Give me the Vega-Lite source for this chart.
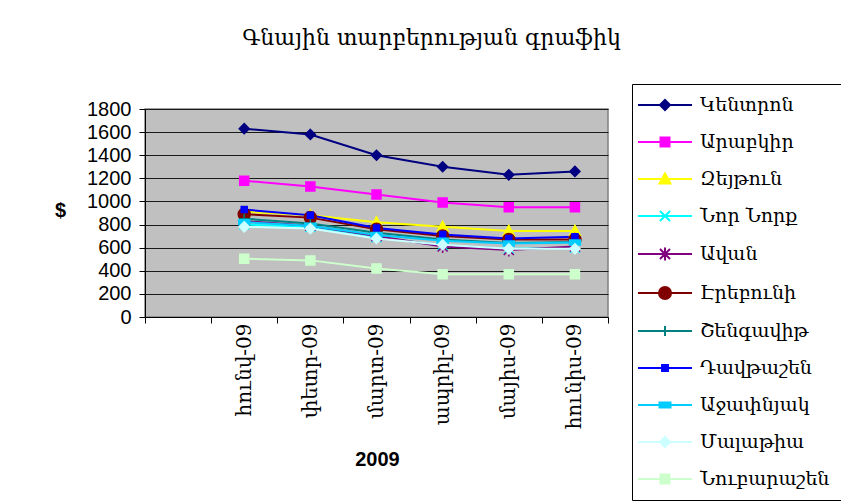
{
  "$schema": "https://vega.github.io/schema/vega-lite/v6.json",
  "autosize": {"type": "none"},
  "width": 463,
  "height": 208,
  "padding": {"left": 145, "top": 109, "right": 233, "bottom": 185},
  "background": "white",
  "title": {"text": "Գնային տարբերության գրաֆիկ", "font": "DejaVu Serif", "fontSize": 22, "fontWeight": "normal", "color": "black", "frame": "group", "anchor": "middle", "dx": 55, "offset": 34},
  "config": {
    "view": {"fill": "#C0C0C0", "stroke": "#808080", "strokeWidth": 1.5},
    "legend": {"orient": "none", "legendX": 487, "legendY": -25, "title": null, "symbolSize": 324, "symbolStrokeWidth": 2, "symbolOffset": 12, "labelOffset": 25, "labelFont": "DejaVu Serif", "labelFontSize": 19, "labelColor": "black", "rowPadding": 17, "padding": 11, "strokeColor": "black", "fillColor": "white", "symbolOpacity": 1, "labelLimit": 300}
  },
  "data": {"values": [
    {"series": "Կենտրոն", "month": "հունվ-09", "value": 1630},
    {"series": "Կենտրոն", "month": "փետր-09", "value": 1580},
    {"series": "Կենտրոն", "month": "մարտ-09", "value": 1400},
    {"series": "Կենտրոն", "month": "ապրիլ-09", "value": 1300},
    {"series": "Կենտրոն", "month": "մայիս-09", "value": 1230},
    {"series": "Կենտրոն", "month": "հունիս-09", "value": 1260},
    {"series": "Արաբկիր", "month": "հունվ-09", "value": 1180},
    {"series": "Արաբկիր", "month": "փետր-09", "value": 1130},
    {"series": "Արաբկիր", "month": "մարտ-09", "value": 1060},
    {"series": "Արաբկիր", "month": "ապրիլ-09", "value": 990},
    {"series": "Արաբկիր", "month": "մայիս-09", "value": 950},
    {"series": "Արաբկիր", "month": "հունիս-09", "value": 950},
    {"series": "Զեյթուն", "month": "հունվ-09", "value": 910},
    {"series": "Զեյթուն", "month": "փետր-09", "value": 880},
    {"series": "Զեյթուն", "month": "մարտ-09", "value": 820},
    {"series": "Զեյթուն", "month": "ապրիլ-09", "value": 780},
    {"series": "Զեյթուն", "month": "մայիս-09", "value": 745},
    {"series": "Զեյթուն", "month": "հունիս-09", "value": 745},
    {"series": "Նոր Նորք", "month": "հունվ-09", "value": 800},
    {"series": "Նոր Նորք", "month": "փետր-09", "value": 780},
    {"series": "Նոր Նորք", "month": "մարտ-09", "value": 690},
    {"series": "Նոր Նորք", "month": "ապրիլ-09", "value": 620},
    {"series": "Նոր Նորք", "month": "մայիս-09", "value": 590},
    {"series": "Նոր Նորք", "month": "հունիս-09", "value": 600},
    {"series": "Ավան", "month": "հունվ-09", "value": 830},
    {"series": "Ավան", "month": "փետր-09", "value": 790},
    {"series": "Ավան", "month": "մարտ-09", "value": 700},
    {"series": "Ավան", "month": "ապրիլ-09", "value": 610},
    {"series": "Ավան", "month": "մայիս-09", "value": 580},
    {"series": "Ավան", "month": "հունիս-09", "value": 610},
    {"series": "Էրեբունի", "month": "հունվ-09", "value": 890},
    {"series": "Էրեբունի", "month": "փետր-09", "value": 860},
    {"series": "Էրեբունի", "month": "մարտ-09", "value": 760},
    {"series": "Էրեբունի", "month": "ապրիլ-09", "value": 700},
    {"series": "Էրեբունի", "month": "մայիս-09", "value": 670},
    {"series": "Էրեբունի", "month": "հունիս-09", "value": 670},
    {"series": "Շենգավիթ", "month": "հունվ-09", "value": 850},
    {"series": "Շենգավիթ", "month": "փետր-09", "value": 810},
    {"series": "Շենգավիթ", "month": "մարտ-09", "value": 730},
    {"series": "Շենգավիթ", "month": "ապրիլ-09", "value": 670},
    {"series": "Շենգավիթ", "month": "մայիս-09", "value": 640},
    {"series": "Շենգավիթ", "month": "հունիս-09", "value": 650},
    {"series": "Դավթաշեն", "month": "հունվ-09", "value": 930},
    {"series": "Դավթաշեն", "month": "փետր-09", "value": 880},
    {"series": "Դավթաշեն", "month": "մարտ-09", "value": 770},
    {"series": "Դավթաշեն", "month": "ապրիլ-09", "value": 715},
    {"series": "Դավթաշեն", "month": "մայիս-09", "value": 680},
    {"series": "Դավթաշեն", "month": "հունիս-09", "value": 695},
    {"series": "Աջափնյակ", "month": "հունվ-09", "value": 820},
    {"series": "Աջափնյակ", "month": "փետր-09", "value": 790},
    {"series": "Աջափնյակ", "month": "մարտ-09", "value": 710},
    {"series": "Աջափնյակ", "month": "ապրիլ-09", "value": 660},
    {"series": "Աջափնյակ", "month": "մայիս-09", "value": 635},
    {"series": "Աջափնյակ", "month": "հունիս-09", "value": 645},
    {"series": "Մալաթիա", "month": "հունվ-09", "value": 780},
    {"series": "Մալաթիա", "month": "փետր-09", "value": 765},
    {"series": "Մալաթիա", "month": "մարտ-09", "value": 680},
    {"series": "Մալաթիա", "month": "ապրիլ-09", "value": 625},
    {"series": "Մալաթիա", "month": "մայիս-09", "value": 590},
    {"series": "Մալաթիա", "month": "հունիս-09", "value": 590},
    {"series": "Նուբարաշեն", "month": "հունվ-09", "value": 505},
    {"series": "Նուբարաշեն", "month": "փետր-09", "value": 490},
    {"series": "Նուբարաշեն", "month": "մարտ-09", "value": 420},
    {"series": "Նուբարաշեն", "month": "ապրիլ-09", "value": 370},
    {"series": "Նուբարաշեն", "month": "մայիս-09", "value": 370},
    {"series": "Նուբարաշեն", "month": "հունիս-09", "value": 370}
  ]},
  "encoding": {
    "x": {"field": "month", "type": "ordinal",
      "scale": {"type": "band", "domain": [" ", "հունվ-09", "փետր-09", "մարտ-09", "ապրիլ-09", "մայիս-09", "հունիս-09"], "paddingInner": 0, "paddingOuter": 0},
      "axis": {"title": "2009", "titleFont": "Liberation Sans", "titleFontSize": 20, "titleFontWeight": "bold", "titleColor": "black", "titleX": 232, "titleY": 142, "titleBaseline": "middle", "titleAlign": "center",
        "labelAngle": 270, "labelAlign": "right", "labelBaseline": "middle", "labelFont": "DejaVu Serif", "labelFontSize": 20, "labelColor": "black", "labelPadding": 0, "labelOverlap": false,
        "tickSize": 6, "tickColor": "black", "domainColor": "black", "tickBand": "extent", "grid": false}},
    "y": {"field": "value", "type": "quantitative",
      "scale": {"domain": [0, 1800], "nice": false},
      "axis": {"title": "$", "titleAngle": 0, "titleX": -85, "titleY": 101, "titleAlign": "center", "titleBaseline": "middle", "titleFont": "Liberation Sans", "titleFontSize": 20, "titleFontWeight": "bold", "titleColor": "black",
        "values": [0, 200, 400, 600, 800, 1000, 1200, 1400, 1600, 1800], "format": "d", "labelFont": "Liberation Sans", "labelFontSize": 20, "labelColor": "black", "labelPadding": 8, "labelOverlap": false, "labelFlush": false,
        "tickSize": 6, "tickColor": "black", "domainColor": "black", "grid": true, "gridColor": "#1a1a1a", "gridWidth": 1}}
  },
  "layer": [
    {
      "mark": {"type": "line", "strokeWidth": 2},
      "encoding": {
        "color": {"field": "series", "type": "nominal", "legend": null,
          "scale": {"domain": ["Կենտրոն", "Արաբկիր", "Զեյթուն", "Նոր Նորք", "Ավան", "Էրեբունի", "Շենգավիթ", "Դավթաշեն", "Աջափնյակ", "Մալաթիա", "Նուբարաշեն"],
            "range": ["#000080", "#FF00FF", "#FFFF00", "#00FFFF", "#800080", "#800000", "#008080", "#0000FF", "#00CCFF", "#CCFFFF", "#CCFFCC"]}}
      }
    },
    {
      "mark": {"type": "point", "filled": true, "size": 100, "strokeWidth": 1.5, "opacity": 1},
      "encoding": {
        "fill": {"field": "series", "type": "nominal", "legend": null,
          "scale": {"domain": ["Կենտրոն", "Արաբկիր", "Զեյթուն", "Նոր Նորք", "Ավան", "Էրեբունի", "Շենգավիթ", "Դավթաշեն", "Աջափնյակ", "Մալաթիա", "Նուբարաշեն"],
            "range": ["#000080", "#FF00FF", "#FFFF00", "#00FFFF", "#800080", "#800000", "#008080", "#0000FF", "#00CCFF", "#CCFFFF", "#CCFFCC"]}},
        "stroke": {"field": "series", "type": "nominal", "legend": null,
          "scale": {"domain": ["Կենտրոն", "Արաբկիր", "Զեյթուն", "Նոր Նորք", "Ավան", "Էրեբունի", "Շենգավիթ", "Դավթաշեն", "Աջափնյակ", "Մալաթիա", "Նուբարաշեն"],
            "range": ["#000080", "#FF00FF", "#FFFF00", "#00FFFF", "#800080", "#800000", "#008080", "#0000FF", "#00CCFF", "#CCFFFF", "#CCFFCC"]}},
        "shape": {"field": "series", "type": "nominal", "legend": null,
          "scale": {"domain": ["Կենտրոն", "Արաբկիր", "Զեյթուն", "Նոր Նորք", "Ավան", "Էրեբունի", "Շենգավիթ", "Դավթաշեն", "Աջափնյակ", "Մալաթիա", "Նուբարաշեն"],
            "range": [
              "M0,-1L1,0L0,1L-1,0Z",
              "M-0.9,-0.9H0.9V0.9H-0.9Z",
              "M0,-1.1L1.1,0.9H-1.1Z",
              "M-1,-1L1,1M-1,1L1,-1",
              "M-1,-1L1,1M-1,1L1,-1M0,-1.3V1.3",
              "M-1.2,0A1.2,1.2 0 1,0 1.2,0A1.2,1.2 0 1,0 -1.2,0Z",
              "M-1,0H1M0,-1V1",
              "M-0.6,-0.6H0.6V0.6H-0.6Z",
              "M-1.1,-0.5H1.1V0.5H-1.1Z",
              "M0,-1L1,0L0,1L-1,0Z",
              "M-0.9,-0.9H0.9V0.9H-0.9Z"
            ]}}
      }
    },
    {
      "mark": {"type": "point", "filled": true, "size": 0},
      "encoding": {
        "fill": {"field": "series", "type": "nominal",
          "legend": {"orient": "none", "legendX": 487, "legendY": -25, "title": null},
          "scale": {"domain": ["Կենտրոն", "Արաբկիր", "Զեյթուն", "Նոր Նորք", "Ավան", "Էրեբունի", "Շենգավիթ", "Դավթաշեն", "Աջափնյակ", "Մալաթիա", "Նուբարաշեն"],
            "range": ["#000080", "#FF00FF", "#FFFF00", "#00FFFF", "#800080", "#800000", "#008080", "#0000FF", "#00CCFF", "#CCFFFF", "#CCFFCC"]}},
        "stroke": {"field": "series", "type": "nominal",
          "legend": {"orient": "none", "legendX": 487, "legendY": -25, "title": null},
          "scale": {"domain": ["Կենտրոն", "Արաբկիր", "Զեյթուն", "Նոր Նորք", "Ավան", "Էրեբունի", "Շենգավիթ", "Դավթաշեն", "Աջափնյակ", "Մալաթիա", "Նուբարաշեն"],
            "range": ["#000080", "#FF00FF", "#FFFF00", "#00FFFF", "#800080", "#800000", "#008080", "#0000FF", "#00CCFF", "#CCFFFF", "#CCFFCC"]}},
        "shape": {"field": "series", "type": "nominal",
          "legend": {"orient": "none", "legendX": 487, "legendY": -25, "title": null},
          "scale": {"domain": ["Կենտրոն", "Արաբկիր", "Զեյթուն", "Նոր Նորք", "Ավան", "Էրեբունի", "Շենգավիթ", "Դավթաշեն", "Աջափնյակ", "Մալաթիա", "Նուբարաշեն"],
            "range": [
              "M-3,0H3M0,-0.56L0.56,0L0,0.56L-0.56,0Z",
              "M-3,0H3M-0.5,-0.5H0.5V0.5H-0.5Z",
              "M-3,0H3M0,-0.61L0.61,0.5H-0.61Z",
              "M-3,0H3M-0.56,-0.56L0.56,0.56M-0.56,0.56L0.56,-0.56",
              "M-3,0H3M-0.56,-0.56L0.56,0.56M-0.56,0.56L0.56,-0.56M0,-0.72V0.72",
              "M-3,0H3M-0.67,0A0.67,0.67 0 1,0 0.67,0A0.67,0.67 0 1,0 -0.67,0Z",
              "M-3,0H3M0,-0.56V0.56",
              "M-3,0H3M-0.33,-0.33H0.33V0.33H-0.33Z",
              "M-3,0H3M-0.61,-0.28H0.61V0.28H-0.61Z",
              "M-3,0H3M0,-0.56L0.56,0L0,0.56L-0.56,0Z",
              "M-3,0H3M-0.5,-0.5H0.5V0.5H-0.5Z"
            ]}}
      }
    }
  ],
  "resolve": {"scale": {"shape": "independent", "fill": "independent", "stroke": "independent"}}
}
